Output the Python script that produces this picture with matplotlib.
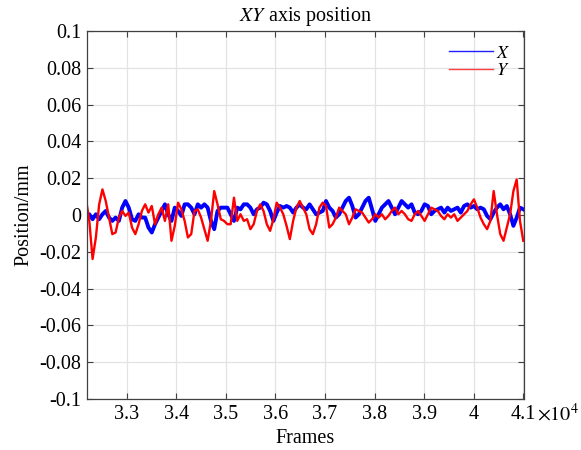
import numpy as np
import matplotlib
matplotlib.use("Agg")
import matplotlib.pyplot as plt
from matplotlib.lines import Line2D

plt.rcParams['font.family'] = ['Liberation Serif', 'DejaVu Serif']
plt.rcParams['mathtext.fontset'] = 'stix'

# ---- data (position in mm, sampled evenly over the frame range) ----
frame_start = 32180
frame_end = 41000

x_pos = [
    # 3.22e4 .. 3.36e4
    -0.0014, 0.0004, -0.0023, 0.0004, -0.0023, 0.0004, 0.0022, -0.0014, -0.0032, -0.0014, -0.0032,
    0.0040, 0.0076, 0.0040, -0.0023, -0.0032, 0.0004, -0.0014, -0.0014, -0.0068, -0.0095, -0.0050,
    # 3.36e4 .. 3.51e4
    -0.0014, 0.0022, 0.0058, 0.0004, -0.0032, 0.0040, 0.0022, -0.0005, 0.0058, 0.0058, 0.0040,
    0.0004, 0.0058, 0.0040, 0.0058, 0.0040, -0.0032, -0.0077, 0.0022, 0.0040, 0.0040, 0.0040,
    # 3.51e4 .. 3.65e4
    0.0004, -0.0032, 0.0040, 0.0031, 0.0058, 0.0058, 0.0040, 0.0004, 0.0031, 0.0040, 0.0067,
    0.0058, 0.0022, -0.0032, 0.0013, 0.0049, 0.0040, 0.0049, 0.0040, 0.0013, 0.0040, 0.0058,
    # 3.65e4 .. 3.80e4
    0.0040, 0.0031, 0.0058, 0.0031, 0.0004, 0.0013, 0.0022, 0.0076, 0.0040, 0.0022, -0.0014,
    0.0004, 0.0040, 0.0076, 0.0094, 0.0049, -0.0014, 0.0004, 0.0040, 0.0076, 0.0094, 0.0031,
    # 3.80e4 .. 3.94e4
    -0.0032, 0.0004, 0.0040, 0.0058, 0.0076, 0.0040, 0.0004, 0.0040, 0.0076, 0.0058, 0.0040,
    0.0058, 0.0013, 0.0004, 0.0022, 0.0058, 0.0049, 0.0004, 0.0022, 0.0031, 0.0040, 0.0013,
    # 3.94e4 .. 4.10e4
    0.0040, 0.0022, 0.0031, 0.0040, 0.0013, 0.0049, 0.0058, 0.0040, 0.0049, 0.0031, 0.0040, 0.0031,
    -0.0005, -0.0023, 0.0013, 0.0040, 0.0058, 0.0031, 0.0049, 0.0004, -0.0059, -0.0014, 0.0040, 0.0031,
]

y_pos = [
    0.0085, -0.0032, -0.0239, -0.0122, 0.0058, 0.0139, 0.0076, -0.0014, -0.0104, -0.0095, -0.0014,
    0.0022, -0.0005, 0.0013, -0.0068, -0.0104, -0.0050, 0.0022, 0.0058, 0.0013, 0.0049, -0.0050,
    0.0004, 0.0040, -0.0032, 0.0058, -0.0140, -0.0059, 0.0067, 0.0031, -0.0032, -0.0122, -0.0104,
    0.0022, 0.0031, -0.0014, -0.0077, -0.0140, -0.0032, 0.0130, 0.0058, -0.0023, -0.0032, -0.0050,
    -0.0050, 0.0094, -0.0032, 0.0004, -0.0032, -0.0023, -0.0077, -0.0050, 0.0022, 0.0058, 0.0022,
    -0.0050, -0.0086, -0.0023, 0.0067, 0.0040, 0.0004, -0.0059, -0.0131, -0.0032, 0.0040, 0.0076,
    0.0040, 0.0004, -0.0077, -0.0104, -0.0050, 0.0040, 0.0067, 0.0049, -0.0068, -0.0050, -0.0014,
    0.0040, 0.0022, 0.0004, -0.0050, -0.0014, 0.0031, 0.0022, 0.0013, -0.0014, -0.0041, -0.0023,
    0.0004, -0.0014, 0.0004, -0.0023, -0.0005, 0.0022, 0.0040, 0.0004, 0.0022, 0.0004, -0.0023,
    -0.0032, 0.0004, 0.0022, -0.0005, -0.0032, 0.0004, 0.0040, 0.0031, 0.0022, -0.0005, -0.0023,
    0.0004, -0.0014, 0.0004, -0.0032, -0.0014, 0.0004, 0.0022, 0.0058, 0.0085, 0.0040, -0.0014, -0.0050,
    -0.0077, -0.0032, 0.0130, 0.0004, -0.0104, -0.0140, -0.0068, 0.0004, 0.0130, 0.0193, -0.0032, -0.0140,
]

frames = np.linspace(frame_start, frame_end, len(x_pos))

x_ticks = [33000, 34000, 35000, 36000, 37000, 38000, 39000, 40000, 41000]
x_ticklabels = ['3.3', '3.4', '3.5', '3.6', '3.7', '3.8', '3.9', '4', '4.1']
y_ticks = [-0.1, -0.08, -0.06, -0.04, -0.02, 0, 0.02, 0.04, 0.06, 0.08, 0.1]
y_ticklabels = ['-0.1', '-0.08', '-0.06', '-0.04', '-0.02', '0', '0.02', '0.04', '0.06', '0.08', '0.1']

# ---- figure ----
fig = plt.figure(figsize=(5.81, 4.5), dpi=100)
ax = fig.add_axes([87 / 581, 1 - 399 / 450, (524 - 87) / 581, (399 - 31) / 450])

ax.plot(frames, x_pos, color='#0000ff', lw=2.8, solid_joinstyle='round')
ax.plot(frames, y_pos, color='#ff0000', lw=1.7, solid_joinstyle='round')

ax.set_xlim(32200, 41015)
ax.set_ylim(-0.1, 0.1)
ax.set_xticks(x_ticks)
ax.set_xticklabels(x_ticklabels)
ax.set_yticks(y_ticks)
ax.set_yticklabels(y_ticklabels)

ax.grid(True, color='#e3e3e3', lw=0.9)
ax.set_axisbelow(True)
ax.tick_params(direction='in', top=True, right=True, labelsize=14.5, length=4,
               color='#404040', pad=4)
for s in ax.spines.values():
    s.set_color('#404040')
    s.set_linewidth(0.9)

ax.text(1.030, -0.012, r'$\times10^{4}$', transform=ax.transAxes, fontsize=14.5,
        ha='left', va='top')
ax.set_xlabel('Frames', fontsize=14.5, labelpad=4)
ax.set_ylabel('Position/mm', fontsize=14.5, labelpad=4)
ax.set_title(r'$\mathit{XY}$ axis position', fontsize=14.5, pad=7)

handles = [Line2D([0], [0], color='#2020ff', lw=1.0),
           Line2D([0], [0], color='#ff4040', lw=1.0)]
ax.legend(handles, [r'$X$', r'$Y$'], loc='upper right', frameon=False,
          fontsize=13, handlelength=2.4, handletextpad=0.2, labelspacing=0.05,
          borderaxespad=0.35)

fig.savefig('out.png', dpi=100)
